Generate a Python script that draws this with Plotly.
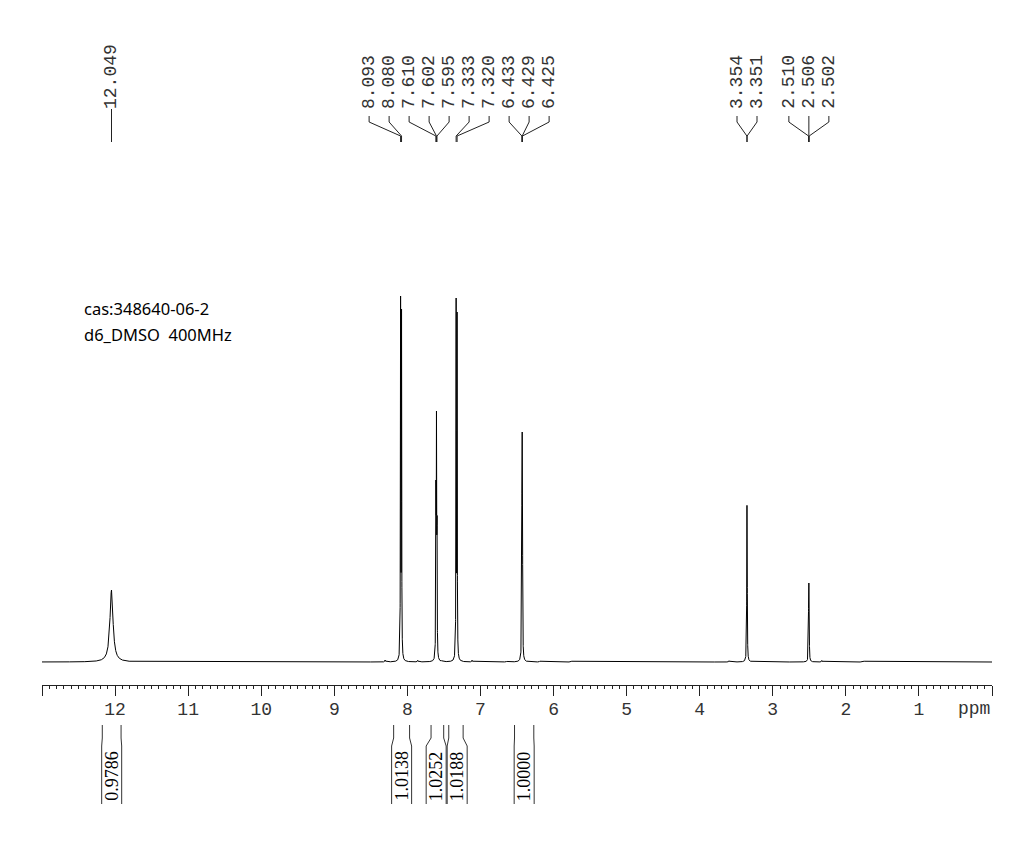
import numpy as np
import plotly.graph_objects as go

# ---------------- data ----------------
# resolved lines: chemical shift (ppm), apparent height (baseline = 0, px-like units), HWHM (ppm)
peak_shifts = [12.049, 8.093, 8.080, 7.610, 7.602, 7.595, 7.333, 7.320,
               6.433, 6.429, 6.425, 3.354, 3.351, 2.510, 2.506, 2.502]
peak_heights = [72, 366, 353, 182, 251, 172, 364, 350,
                204, 230, 196, 150, 144, 58, 79, 60]
peak_widths = [0.025, 0.0025, 0.0025, 0.0025, 0.0025, 0.0025, 0.0025, 0.0025,
               0.0025, 0.0025, 0.0025, 0.0028, 0.0028, 0.0025, 0.0025, 0.0025]

# small impurity bumps
minor_shifts = [8.305, 7.86, 7.53, 7.115, 6.64, 6.19, 5.75, 3.60, 2.33, 1.75]
minor_heights = [2.0, 1.6, 1.5, 1.8, 1.0, 1.0, 0.8, 1.2, 1.5, 0.8]
minor_widths = [0.004] * len(minor_shifts)

# peak-pick label groups (labels spread around the group centre)
label_groups = [
    [12.049],
    [8.093, 8.080, 7.610, 7.602, 7.595, 7.333, 7.320, 6.433, 6.429, 6.425],
    [3.354, 3.351],
    [2.510, 2.506, 2.502],
]

# integrals: (left bound ppm, right bound ppm), value
integral_left = [12.175, 8.188, 7.676, 7.434, 6.534]
integral_right = [11.918, 7.970, 7.503, 7.237, 6.270]
integral_values = ["0.9786", "1.0138", "1.0252", "1.0188", "1.0000"]

tick_values = list(range(0, 14))
tick_labels = ["" if v in (0, 13) else str(v) for v in tick_values]

info_lines = ["cas:348640-06-2", "d6_DMSO&nbsp;&nbsp;400MHz"]

# ---------------- layout geometry ----------------
W, H = 1035, 855
ML, MR = 42, 43
AXIS_PX = 685          # pixel row of the ppm axis
BASE_PX = 662          # pixel row of the spectrum baseline
X_MAX, X_MIN = 13.0, 0.0
PPM_PX = (W - ML - MR) / (X_MAX - X_MIN)


def py(p):
    """pixel row -> paper y"""
    return (AXIS_PX - p) / AXIS_PX


def ppm_to_px(v):
    return ML + (X_MAX - v) * PPM_PX


def px_to_ppm(p):
    return X_MAX - (p - ML) / PPM_PX


# ---------------- spectrum ----------------
all_shifts = np.array(peak_shifts + minor_shifts)
all_heights = np.array(peak_heights + minor_heights, dtype=float)
all_widths = np.array(peak_widths + minor_widths)


def lor(x, c, w):
    return w ** 2 / (w ** 2 + (x - c) ** 2)


M = lor(all_shifts[:, None], all_shifts[None, :], all_widths[None, :])
amps = np.linalg.solve(M, all_heights)

x = np.linspace(X_MIN, X_MAX, 52001)
y = np.zeros_like(x)
for c, w, a in zip(all_shifts, all_widths, amps):
    y += a * lor(x, c, w)

fig = go.Figure()
fig.add_trace(go.Scatter(x=np.round(x, 5), y=np.round(y, 2), mode="lines",
                         line=dict(color="black", width=1), hoverinfo="skip",
                         showlegend=False))

shapes = []
annotations = []

# ---------------- peak labels ----------------
LABEL_SPACING = 20 / PPM_PX
mono = "Liberation Mono, Courier New, monospace"
for grp in label_groups:
    n = len(grp)
    centre = float(np.mean(grp))
    for i, s in enumerate(grp):
        lx = centre + ((n - 1) / 2 - i) * LABEL_SPACING
        annotations.append(dict(
            x=lx, xref="x", y=py(111), yref="paper", text=f"{s:.3f}",
            textangle=-90, xanchor="center", yanchor="bottom", showarrow=False,
            font=dict(family=mono, size=18, color="#333")))
        if n == 1:
            path = f"M {lx},{py(109)} L {lx},{py(142)}"
        else:
            path = (f"M {lx},{py(116)} L {lx},{py(122)} "
                    f"L {s},{py(136)} L {s},{py(142)}")
        shapes.append(dict(type="path", path=path, xref="x", yref="paper",
                           line=dict(color="#222", width=1)))

# ---------------- integrals ----------------
BOX_W = 20
boxes = []
for lo, hi in zip(integral_left, integral_right):
    c = (ppm_to_px(lo) + ppm_to_px(hi)) / 2
    boxes.append([c - BOX_W / 2, c + BOX_W / 2])
for k in range(1, len(boxes)):
    if boxes[k][0] < boxes[k - 1][1] + 1:
        mid = (boxes[k][0] + boxes[k - 1][1]) / 2
        d1 = boxes[k - 1][1] - (mid - 0.5)
        boxes[k - 1] = [boxes[k - 1][0] - d1, boxes[k - 1][1] - d1]
        d2 = (mid + 0.5) - boxes[k][0]
        boxes[k] = [boxes[k][0] + d2, boxes[k][1] + d2]

serif = "Liberation Serif, Times New Roman, serif"
for (lo, hi), (bl, br), val in zip(zip(integral_left, integral_right), boxes, integral_values):
    for bound, edge in ((lo, bl), (hi, br)):
        path = (f"M {bound},{py(725)} L {bound},{py(738)} "
                f"L {px_to_ppm(edge)},{py(746)} L {px_to_ppm(edge)},{py(804)}")
        shapes.append(dict(type="path", path=path, xref="x", yref="paper",
                           line=dict(color="#333", width=1)))
    annotations.append(dict(
        x=px_to_ppm((bl + br) / 2), xref="x", y=py(776), yref="paper", text=val,
        textangle=-90, xanchor="center", yanchor="middle", showarrow=False,
        font=dict(family=serif, size=18, color="black")))

# ---------------- axis unit ----------------
annotations.append(dict(
    x=px_to_ppm(974), xref="x", y=py(709), yref="paper", text="ppm",
    xanchor="center", yanchor="middle", showarrow=False,
    font=dict(family=mono, size=18, color="#333")))

# ---------------- info text ----------------
for k, t in enumerate(info_lines):
    annotations.append(dict(
        x=(82 - ML) / (W - ML - MR), xref="paper", y=py(308 + 27 * k), yref="paper",
        text=t, xanchor="left", yanchor="middle", showarrow=False,
        font=dict(family="Noto Sans, Open Sans, sans-serif", size=16.5, color="black")))

fig.update_layout(
    width=W, height=H,
    margin=dict(l=ML, r=MR, t=0, b=H - AXIS_PX, pad=0),
    paper_bgcolor="white", plot_bgcolor="white",
    showlegend=False,
    xaxis=dict(range=[X_MAX, X_MIN], showgrid=False, zeroline=False,
               showline=True, linecolor="#222", linewidth=1,
               tickmode="array", tickvals=tick_values, ticktext=tick_labels,
               ticks="outside", ticklen=10, tickcolor="#222", tickwidth=1,
               ticklabelstandoff=-3,
               tickfont=dict(family=mono, size=18, color="#333"),
               minor=dict(tickmode="linear", tick0=0, dtick=0.1, ticks="outside",
                          ticklen=3, tickcolor="#222", tickwidth=1, showgrid=False)),
    yaxis=dict(range=[BASE_PX - AXIS_PX, BASE_PX], visible=False, fixedrange=True),
    shapes=shapes,
    annotations=annotations,
)

fig.write_html("out.html", config={"displayModeBar": False},
               post_script="document.body.style.margin='0';")
